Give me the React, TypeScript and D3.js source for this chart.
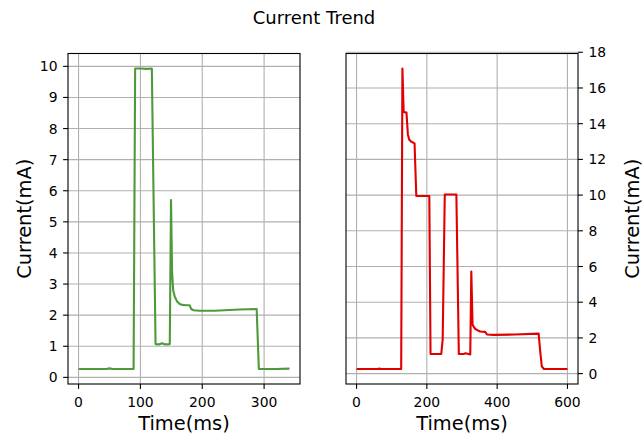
import React from "react";
import { scaleLinear, line, extent } from "d3";

// left panel (green)
const timeA = [0, 45, 50, 55, 89, 91.5, 100, 110, 118.5, 124.5, 130, 135, 140, 147.5, 149.5, 151.2, 153, 155.5, 159, 163.5, 168, 174, 179.5, 182, 186, 195, 220, 260, 288, 291.5, 320, 341];
const currentA = [0.27, 0.27, 0.29, 0.27, 0.27, 9.93, 9.93, 9.92, 9.93, 1.07, 1.06, 1.1, 1.06, 1.07, 5.7, 3.4, 2.8, 2.6, 2.45, 2.36, 2.33, 2.32, 2.32, 2.2, 2.16, 2.14, 2.14, 2.18, 2.2, 0.27, 0.27, 0.28];

// right panel (red)
const timeB = [0, 60, 65, 70, 127, 130.5, 134, 142, 144, 146, 150, 155, 165, 170, 207, 210.5, 241, 245, 251, 284, 291, 305, 310, 323.5, 326.5, 330, 334, 338, 345, 352, 366, 371, 390, 450, 518, 522, 527, 533, 600];
const currentB = [0.26, 0.26, 0.28, 0.26, 0.26, 17.09, 14.66, 14.62, 14.0, 13.4, 13.1, 13.0, 12.9, 9.95, 9.95, 1.1, 1.1, 1.9, 10.03, 10.03, 1.1, 1.1, 1.14, 1.07, 5.72, 2.75, 2.6, 2.5, 2.42, 2.36, 2.34, 2.19, 2.17, 2.19, 2.24, 1.35, 0.41, 0.26, 0.26];

const xTicksA = [0, 100, 200, 300];
const yTicksA = [0, 1, 2, 3, 4, 5, 6, 7, 8, 9, 10];
const xTicksB = [0, 200, 400, 600];
const yTicksB = [0, 2, 4, 6, 8, 10, 12, 14, 16, 18];

const FONT = "DejaVu Sans";
const TICK = 4.9;

function pad(vals: number[]): [number, number] {
  const [lo, hi] = extent(vals) as [number, number];
  const m = (hi - lo) * 0.05;
  return [lo - m, hi + m];
}

type PanelProps = {
  xs: number[];
  ys: number[];
  xTicks: number[];
  yTicks: number[];
  left: number;
  right: number;
  color: string;
  yRight?: boolean;
};

function Panel({ xs, ys, xTicks, yTicks, left, right, color, yRight }: PanelProps) {
  const top = 53.5;
  const bottom = 384;
  const x = scaleLinear().domain(pad(xs)).range([left, right]);
  const y = scaleLinear().domain(pad(ys)).range([bottom, top]);
  const pts = xs.map((t, i) => [t, ys[i]] as [number, number]);
  const path = line<[number, number]>()
    .x(d => x(d[0]))
    .y(d => y(d[1]))(pts);
  const axisX = yRight ? right : left;
  const dir = yRight ? 1 : -1;

  return (
    <g>
      {/* grid */}
      {xTicks.map(t => (
        <line key={"gx" + t} x1={x(t)} x2={x(t)} y1={top} y2={bottom} stroke="#b0b0b0" strokeWidth={1.1} />
      ))}
      {yTicks.map(t => (
        <line key={"gy" + t} x1={left} x2={right} y1={y(t)} y2={y(t)} stroke="#b0b0b0" strokeWidth={1.1} />
      ))}
      <path d={path ?? ""} fill="none" stroke={color} strokeWidth={2.1} strokeLinejoin="round" />
      <rect x={left} y={top} width={right - left} height={bottom - top} fill="none" stroke="#000" strokeWidth={1.1} />
      {/* x axis */}
      {xTicks.map(t => (
        <g key={"tx" + t}>
          <line x1={x(t)} x2={x(t)} y1={bottom} y2={bottom + TICK} stroke="#000" strokeWidth={1.1} />
          <text x={x(t)} y={406.5} textAnchor="middle" fontSize={13.9} fontFamily={FONT} fill="#000">
            {t}
          </text>
        </g>
      ))}
      {/* y axis */}
      {yTicks.map(t => (
        <g key={"ty" + t}>
          <line x1={axisX} x2={axisX + dir * TICK} y1={y(t)} y2={y(t)} stroke="#000" strokeWidth={1.1} />
          <text
            x={axisX + dir * 10.5}
            y={y(t) + 5}
            textAnchor={yRight ? "start" : "end"}
            fontSize={13.9}
            fontFamily={FONT}
            fill="#000"
          >
            {t}
          </text>
        </g>
      ))}
      <text x={(left + right) / 2} y={430} textAnchor="middle" fontSize={19.4} fontFamily={FONT} fill="#000">
        Time(ms)
      </text>
      <text
        transform={`translate(${yRight ? 639 : 30.5},${(top + bottom) / 2}) rotate(-90)`}
        textAnchor="middle"
        fontSize={19.4}
        fontFamily={FONT}
        fill="#000"
      >
        Current(mA)
      </text>
    </g>
  );
}

export default function App() {
  return (
    <svg width={644} height={437} style={{ position: "absolute", left: 0, top: 0, background: "#fff" }}>
      <text x={314} y={23.5} textAnchor="middle" fontSize={18} fontFamily={FONT} fill="#000">
        Current Trend
      </text>
      <Panel xs={timeA} ys={currentA} xTicks={xTicksA} yTicks={yTicksA} left={68} right={300} color="#4e9a3b" />
      <Panel xs={timeB} ys={currentB} xTicks={xTicksB} yTicks={yTicksB} left={346} right={578} color="#e00000" yRight />
    </svg>
  );
}
